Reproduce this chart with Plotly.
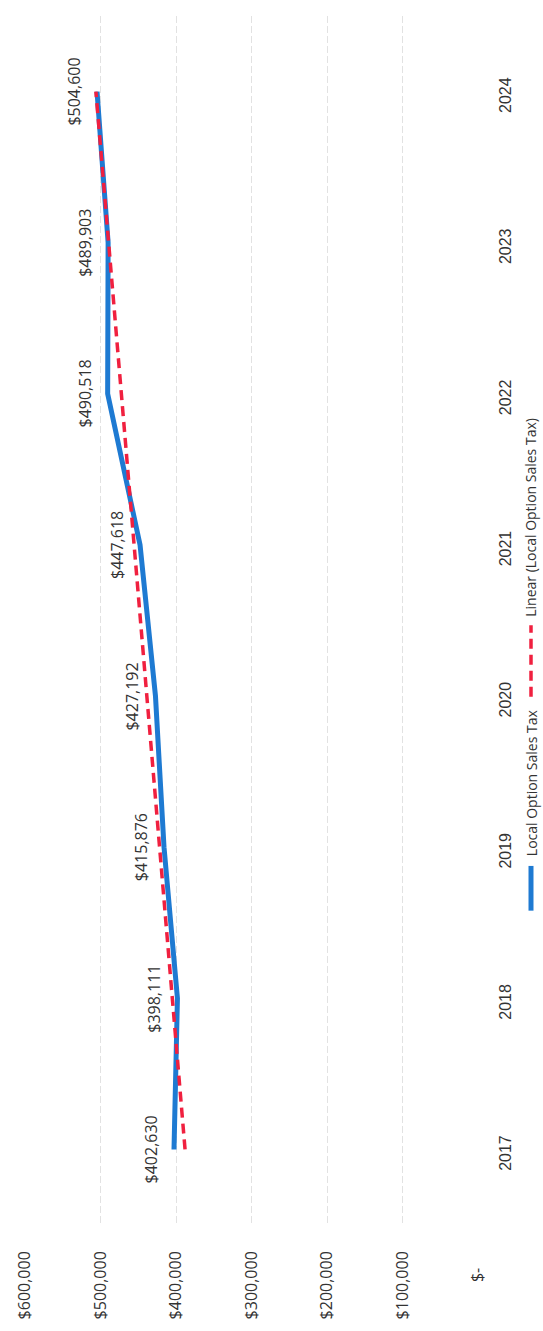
import numpy as np
import plotly.graph_objects as go

years = [2017, 2018, 2019, 2020, 2021, 2022, 2023, 2024]
sales_tax = [402630, 398111, 415876, 427192, 447618, 490518, 489903, 504600]
value_ticks = [0, 100000, 200000, 300000, 400000, 500000, 600000]
value_tick_labels = ["$-\u00a0\u00a0\u00a0\u00a0", "$100,000", "$200,000", "$300,000",
                     "$400,000", "$500,000", "$600,000"]
series_name = "Local Option Sales Tax"
trend_name = "Linear (Local Option Sales Tax)"

# linear trendline (least squares on category index)
idx = np.arange(len(years))
slope, intercept = np.polyfit(idx, sales_tax, 1)
trend = list(intercept + slope * idx)

BLUE = "#1E7AD2"
RED = "#F0203F"
TXT = "#333333"
FONT = "Open Sans"

fig = go.Figure()
fig.add_trace(go.Scatter(x=sales_tax, y=years, mode="lines",
                         line=dict(color=BLUE, width=5), name=series_name,
                         showlegend=False))
fig.add_trace(go.Scatter(x=trend, y=years, mode="lines",
                         line=dict(color=RED, width=3.5, dash="10px,6px"),
                         name=trend_name, showlegend=False))

annotations = []
for yv, v in zip(years, sales_tax):
    annotations.append(dict(x=v, y=yv, xref="x", yref="y", text=f"${v:,}",
                            showarrow=False, textangle=-90, xshift=-23,
                            font=dict(family=FONT, size=16, color=TXT)))

# legend (rotated), drawn manually
L_X = 1.117
fig.add_shape(type="line", xref="paper", yref="paper", x0=L_X, x1=L_X,
              y0=0.260, y1=0.297, line=dict(color=BLUE, width=5))
annotations.append(dict(x=L_X, y=0.303, xref="paper", yref="paper", text=series_name,
                        showarrow=False, textangle=-90, xanchor="center", yanchor="bottom",
                        font=dict(family=FONT, size=14, color=TXT)))
fig.add_shape(type="line", xref="paper", yref="paper", x0=L_X, x1=L_X,
              y0=0.437, y1=0.496, line=dict(color=RED, width=3.5, dash="10px,6px"))
annotations.append(dict(x=L_X, y=0.501, xref="paper", yref="paper", text=trend_name,
                        showarrow=False, textangle=-90, xanchor="center", yanchor="bottom",
                        font=dict(family=FONT, size=14, color=TXT)))

fig.update_layout(
    width=543, height=1331,
    margin=dict(l=25, r=65, t=16, b=100),
    paper_bgcolor="white", plot_bgcolor="white",
    annotations=annotations,
    xaxis=dict(range=[600000, 0], tickvals=value_ticks, ticktext=value_tick_labels,
               tickangle=-90, showgrid=True, gridcolor="#e2e2e2", griddash="7px,3px",
               gridwidth=1, zeroline=False, showline=False, ticks="",
               ticklabelstandoff=22,
               tickfont=dict(family=FONT, size=16, color=TXT)),
    yaxis=dict(range=[2016.5, 2024.5], tickvals=years, ticktext=[str(y) for y in years],
               side="right", tickangle=-90, showgrid=False, zeroline=False,
               showline=False, ticks="", ticklabelstandoff=16, ticklabelshift=6,
               tickfont=dict(family="Liberation Sans", size=16, color=TXT)),
)

fig.write_html("out.html")
